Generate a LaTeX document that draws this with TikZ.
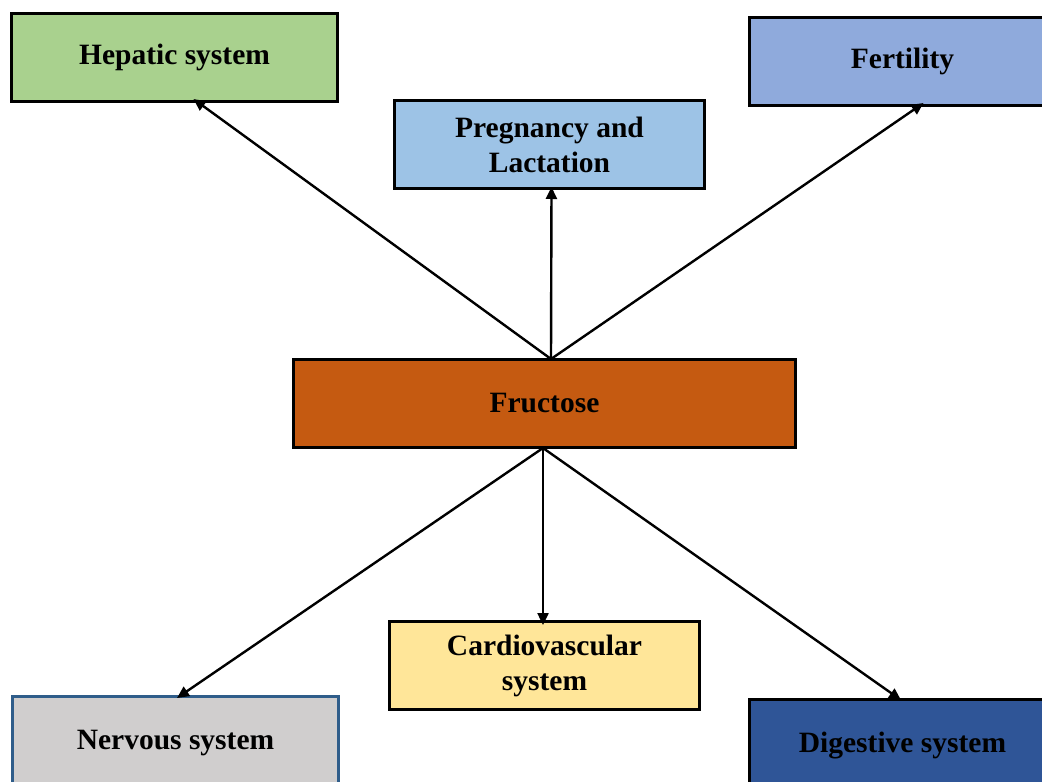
\documentclass[tikz,border=0pt]{standalone}
\usepackage{fontspec}
\setmainfont{Liberation Serif}
\usetikzlibrary{arrows.meta}
\definecolor{hepfill}{HTML}{A9D18E}
\definecolor{pregfill}{HTML}{9DC3E6}
\definecolor{fertfill}{HTML}{8FAADC}
\definecolor{frufill}{HTML}{C55A11}
\definecolor{cardfill}{HTML}{FFE699}
\definecolor{nervfill}{HTML}{D0CECE}
\definecolor{digfill}{HTML}{2F5597}
\definecolor{nervline}{HTML}{2F5D8A}
\tikzset{
  box/.style={draw=black, line width=3pt, anchor=north west, inner sep=0pt,
    align=center, font=\fontsize{29.5}{35}\selectfont\bfseries},
  link/.style={line width=2.4pt, -{Triangle[length=12pt,width=11pt]}}
}
\begin{document}
\begin{tikzpicture}[x=1pt,y=-1pt]
\useasboundingbox (0,0) rectangle (1042,782);
\clip (0,0) rectangle (1042,782);
\fill[white] (0,0) rectangle (1042,782);
% upper row
\node[box, fill=hepfill, minimum width=326pt, minimum height=88pt] (hep) at (10,12) {Hepatic system};
\node[box, fill=pregfill, minimum width=310pt, minimum height=88pt] (preg) at (393,99) {Pregnancy and\\Lactation};
\node[box, fill=fertfill, minimum width=306pt, minimum height=88pt] (fert) at (748,16) {Fertility};
% centre
\node[box, fill=frufill, minimum width=502pt, minimum height=88pt] (fru) at (292,358) {Fructose};
% lower row
\node[box, fill=cardfill, minimum width=310pt, minimum height=88pt] (card) at (388,620) {Cardiovascular\\system};
\node[box, draw=nervline, fill=nervfill, minimum width=326pt, minimum height=94pt] (nerv) at (11,695) {Nervous system};
\node[box, fill=digfill, minimum width=306pt, minimum height=92pt] (dig) at (748,698) {Digestive system};
% connectors from the fructose box
\coordinate (top) at ([xshift=6.5pt,yshift=-1pt]fru.north);
\coordinate (bot) at ([xshift=-1.5pt,yshift=1pt]fru.south);
\draw[link] (top) -- ([xshift=19pt,yshift=4pt]hep.south);
\draw[link] (top) -- ([xshift=2pt,yshift=3pt]preg.south);
\draw[link] (top) -- ([xshift=21pt,yshift=4pt]fert.south);
\draw[link] (bot) -- ([xshift=1.5pt,yshift=-3pt]nerv.north);
\draw[link] (bot) -- ([xshift=-1.5pt,yshift=-5pt]card.north);
\draw[link] (bot) -- ([xshift=-1.5pt,yshift=-2pt]dig.north);
\end{tikzpicture}
\end{document}
